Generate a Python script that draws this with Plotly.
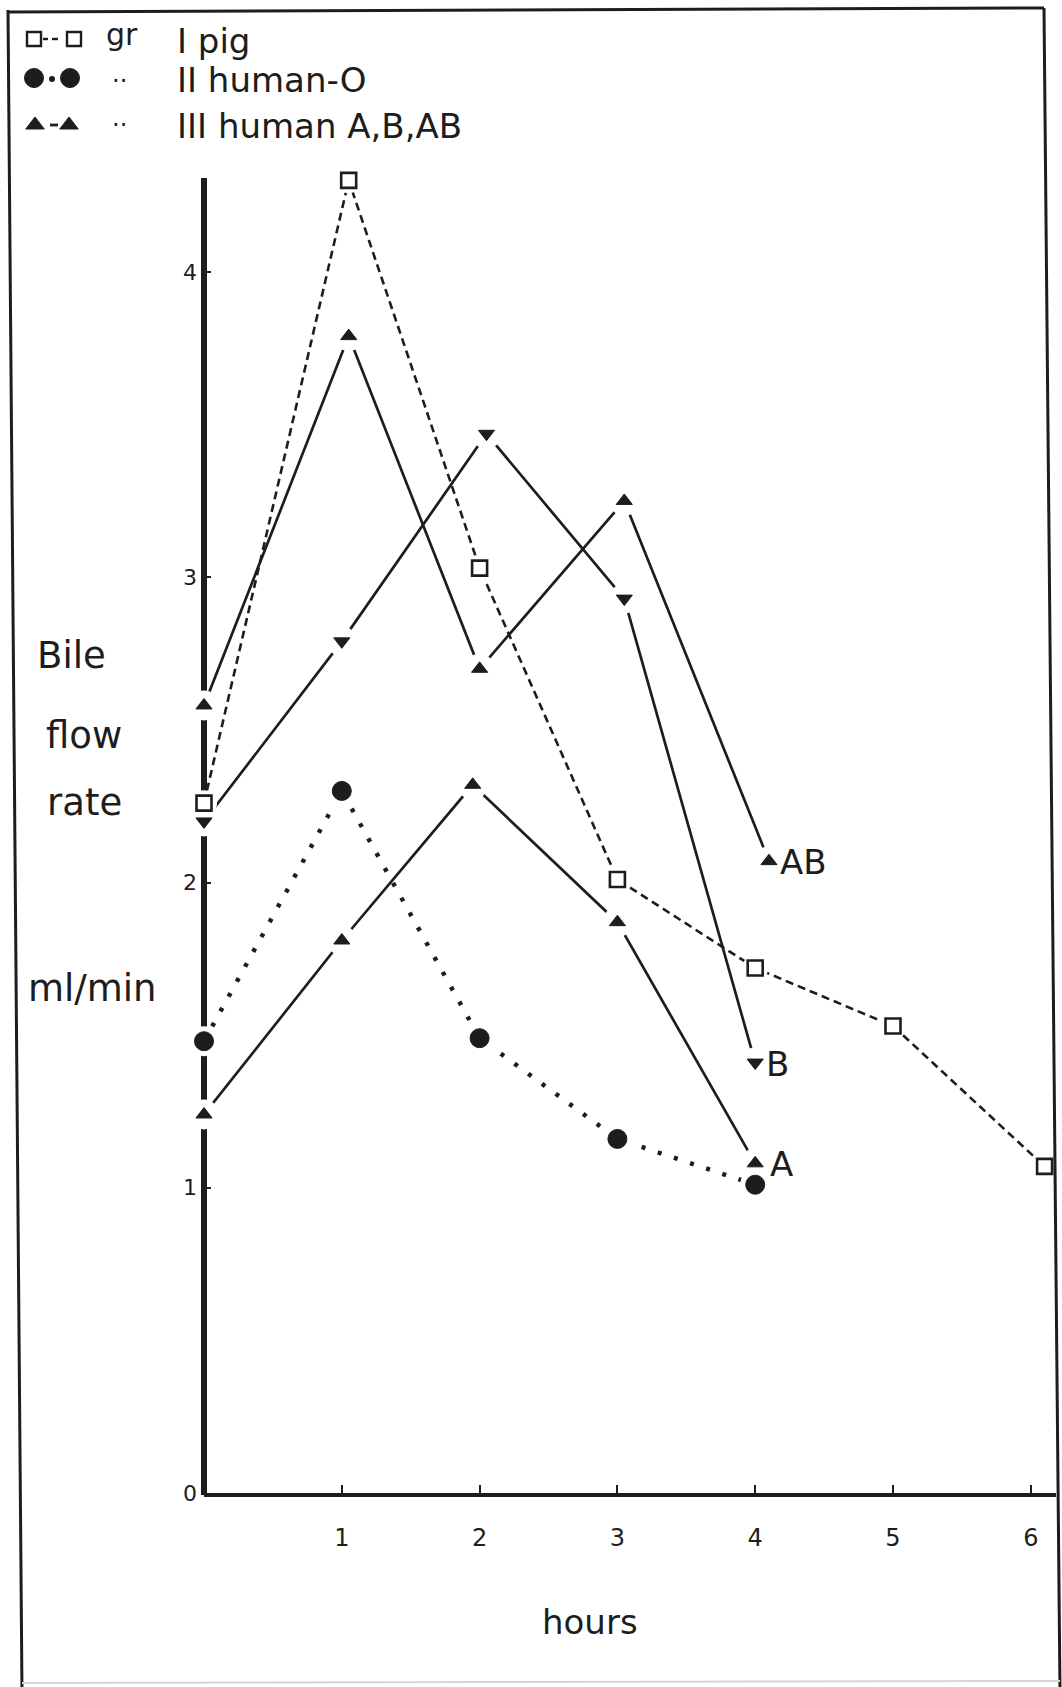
import plotly.graph_objects as go

# ---- data: bile flow rate (ml/min) against time (hours) ----
hour_ticks = [1, 2, 3, 4, 5, 6]
flow_ticks = [0, 1, 2, 3, 4]

# group I: pig blood
pig_h = [0, 1.05, 2.0, 3.0, 4.0, 5.0, 6.1]
pig_v = [2.26, 4.30, 3.03, 2.01, 1.72, 1.53, 1.07]

# group II: human blood, type O
o_h = [0, 1.0, 2.0, 3.0, 4.0]
o_v = [1.48, 2.30, 1.49, 1.16, 1.01]

# group III: human blood, types A, B, AB
a_h = [0, 1.0, 1.95, 3.0, 4.0]
a_v = [1.24, 1.81, 2.32, 1.87, 1.08]
b_h = [0, 1.0, 2.05, 3.05, 4.0]
b_v = [2.20, 2.79, 3.47, 2.93, 1.41]
ab_h = [0, 1.05, 2.0, 3.05, 4.1]
ab_v = [2.58, 3.79, 2.70, 3.25, 2.07]

end_labels = ["A", "B", "AB"]

# ---- page geometry (pixels) ----
W, H = 1062, 1687
X0, X1 = 204, 1056        # left / right edge of plotting area
Y0, Y1 = 1493, 178        # y = 0 and top of the value axis
PX_H = 137.8              # pixels per hour
PX_V = 305.25             # pixels per ml/min

INK = "#1d1d1d"
HALO = "white"
FONT = "DejaVu Sans"
CLEAR = "rgba(0,0,0,0)"


def px(x):
    return x / W


def py(y):
    return 1 - y / H


fig = go.Figure()

series = [
    dict(h=pig_h, v=pig_v, dash="8px,5px", width=2.6, symbol="square-open",
         size=15, halo=26),
    dict(h=o_h, v=o_v, dash="4px,13px", width=4.5, symbol="circle",
         size=19, halo=30),
    dict(h=a_h, v=a_v, dash="solid", width=2.7, symbol="triangle-up",
         size=14, halo=30),
    dict(h=b_h, v=b_v, dash="solid", width=2.7, symbol="triangle-down",
         size=14, halo=30),
    dict(h=ab_h, v=ab_v, dash="solid", width=2.7, symbol="triangle-up",
         size=14, halo=30),
]

# connecting lines
for s in series:
    fig.add_trace(go.Scatter(
        x=s["h"], y=s["v"], mode="lines",
        line=dict(color=INK, width=s["width"], dash=s["dash"]),
        cliponaxis=False, hoverinfo="skip", showlegend=False))

# clearance around every point, so lines (and the axis) stop short of the symbols
for s in series:
    fig.add_trace(go.Scatter(
        x=s["h"], y=s["v"], mode="markers",
        marker=dict(symbol="circle", size=s["halo"], color=HALO,
                    line=dict(width=0)),
        cliponaxis=False, hoverinfo="skip", showlegend=False))

# point symbols
for s in series:
    fig.add_trace(go.Scatter(
        x=s["h"], y=s["v"], mode="markers",
        marker=dict(symbol=s["symbol"], size=s["size"], color=INK,
                    line=dict(color=INK, width=2.6 if "open" in s["symbol"] else 1)),
        cliponaxis=False, showlegend=False))

# labels at the end of the group III curves
for lab, hh, vv, dx in zip(end_labels, [a_h, b_h, ab_h], [a_v, b_v, ab_v],
                           [13, 9, 9]):
    fig.add_annotation(x=hh[-1], y=vv[-1], xref="x", yref="y", text=lab,
                       showarrow=False, xanchor="left", yanchor="middle",
                       xshift=dx, yshift=-1,
                       font=dict(family=FONT, size=34, color=INK))

# ---- key in the upper left corner (drawn on an overlay in page pixels) ----
key_marks = [
    dict(x=[34, 74], y=[39, 39], symbol="square-open", size=14),
    dict(x=[34, 70], y=[78, 78], symbol="circle", size=19),
    dict(x=[35, 69], y=[125, 125], symbol="triangle-up", size=16),
]
key_strokes = [
    dict(x=[43, 48], y=[39, 39], w=2.4),
    dict(x=[52, 58], y=[39, 39], w=2.4),
    dict(x=[50, 58], y=[125, 125], w=2.8),
]
for k in key_strokes:
    fig.add_trace(go.Scatter(
        x=k["x"], y=k["y"], mode="lines", xaxis="x2", yaxis="y2",
        line=dict(color=INK, width=k["w"]),
        hoverinfo="skip", showlegend=False))
for k in key_marks:
    fig.add_trace(go.Scatter(
        x=k["x"], y=k["y"], mode="markers", xaxis="x2", yaxis="y2",
        marker=dict(symbol=k["symbol"], size=k["size"], color=INK,
                    line=dict(color=INK, width=2.4 if "open" in k["symbol"] else 1)),
        hoverinfo="skip", showlegend=False))
# small dot between the two circles
fig.add_trace(go.Scatter(
    x=[52], y=[79], mode="markers", xaxis="x2", yaxis="y2",
    marker=dict(symbol="circle", size=6, color=INK),
    hoverinfo="skip", showlegend=False))

texts = [
    ("gr", 104, 34, 30),
    ("I pig", 175, 41, 34),
    ("··", 110, 81, 24),
    ("II human-O", 175, 80, 34),
    ("··", 110, 125, 24),
    ("III human A,B,AB", 175, 126, 34),
]
for t, x, y, fs in texts:
    fig.add_annotation(x=px(x), y=py(y), xref="paper", yref="paper", text=t,
                       showarrow=False, xanchor="left", yanchor="middle",
                       font=dict(family=FONT, size=fs, color=INK))

# value-axis caption, set as separate lines
for t, x, y in [("Bile", 71, 656), ("flow", 84, 735), ("rate", 84, 802),
                ("ml/min", 92, 988)]:
    fig.add_annotation(x=px(x), y=py(y), xref="paper", yref="paper", text=t,
                       showarrow=False, xanchor="center", yanchor="middle",
                       font=dict(family=FONT, size=37, color=INK))

fig.add_annotation(x=px(590), y=py(1622), xref="paper", yref="paper",
                   text="hours", showarrow=False, xanchor="center",
                   yanchor="middle", font=dict(family=FONT, size=34, color=INK))

# heavy value axis, kept beneath the symbols so it breaks around them
fig.add_shape(type="line", xref="paper", yref="paper", layer="below",
              x0=px(X0), x1=px(X0), y0=py(Y0 + 2), y1=py(Y1),
              line=dict(color=INK, width=6))

# page frame (the sheet sits slightly skewed)
frame = dict(type="line", xref="paper", yref="paper",
             line=dict(color=INK, width=3))
fig.add_shape(x0=px(8), x1=px(22), y0=py(10), y1=py(H + 5), **frame)
fig.add_shape(x0=px(8), x1=px(1044), y0=py(12), y1=py(8), **frame)
fig.add_shape(x0=px(1044), x1=px(1060), y0=py(8), y1=py(H + 5), **frame)
# faint lower edge of the sheet
fig.add_shape(type="line", xref="paper", yref="paper",
              x0=px(22), x1=px(1060), y0=py(1683), y1=py(1681),
              line=dict(color="#d4d4d4", width=2))

fig.update_layout(
    width=W, height=H,
    margin=dict(l=0, r=0, t=0, b=0, autoexpand=False),
    paper_bgcolor="white", plot_bgcolor=CLEAR,
    showlegend=False,
    xaxis=dict(
        domain=[px(X0), px(X1)],
        range=[0, (X1 - X0) / PX_H],
        tickvals=hour_ticks, ticktext=[str(v) for v in hour_ticks],
        ticks="inside", ticklen=8, tickwidth=2, tickcolor=INK,
        showline=True, linewidth=4, linecolor=INK,
        showgrid=False, zeroline=False, layer="below traces",
        ticklabelstandoff=20,
        tickfont=dict(family=FONT, size=24, color=INK),
    ),
    yaxis=dict(
        domain=[1 - Y0 / H, 1 - Y1 / H],
        range=[0, (Y0 - Y1) / PX_V],
        tickvals=flow_ticks, ticktext=[str(v) for v in flow_ticks],
        ticks="inside", ticklen=7, tickwidth=2, tickcolor=INK,
        showline=False,
        showgrid=False, zeroline=False, layer="below traces",
        ticklabelstandoff=6,
        tickfont=dict(family=FONT, size=22, color=INK),
    ),
    xaxis2=dict(domain=[0, 1], range=[0, W], visible=False, anchor="y2"),
    yaxis2=dict(domain=[0, 1], range=[H, 0], visible=False, anchor="x2"),
)

fig.write_html("out.html")
